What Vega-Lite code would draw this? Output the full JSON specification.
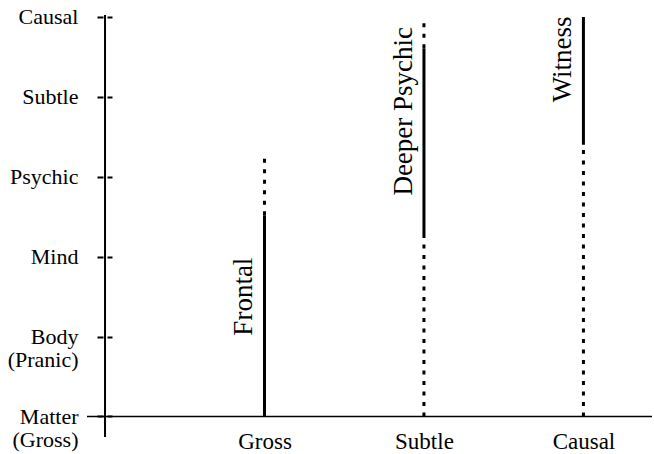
{
  "$schema": "https://vega.github.io/schema/vega-lite/v6.json",
  "width": 565,
  "height": 422,
  "autosize": {"type": "none"},
  "padding": {"left": 87, "top": 15, "right": 2, "bottom": 17},
  "config": {"view": {"stroke": null}, "font": "Liberation Serif"},
  "datasets": {
    "segments": [
      {"series": "Frontal", "pos": 1, "from": 0, "to": 2.52, "style": "solid"},
      {"series": "Frontal", "pos": 1, "from": 2.52, "to": 3.3, "style": "dotted"},
      {"series": "Deeper Psychic", "pos": 2, "from": 0, "to": 2.27, "style": "dotted"},
      {"series": "Deeper Psychic", "pos": 2, "from": 2.27, "to": 4.61, "style": "solid"},
      {"series": "Deeper Psychic", "pos": 2, "from": 4.61, "to": 5.0, "style": "dotted"},
      {"series": "Witness", "pos": 3, "from": 0, "to": 3.4, "style": "dotted"},
      {"series": "Witness", "pos": 3, "from": 3.4, "to": 5.0, "style": "solid"}
    ],
    "labels": [
      {"series": "Frontal", "pos": 1, "level": 1.5},
      {"series": "Deeper Psychic", "pos": 2, "level": 3.82},
      {"series": "Witness", "pos": 3, "level": 4.47}
    ],
    "axes": [
      {"pos": 0, "level": 0}
    ]
  },
  "layer": [
    {
      "data": {"name": "segments"},
      "mark": {"type": "rule", "strokeWidth": 3, "color": "black"},
      "encoding": {
        "x": {
          "field": "pos",
          "type": "quantitative",
          "scale": {"domain": [-0.113, 3.43], "nice": false, "zero": false},
          "axis": {
            "values": [1, 2, 3],
            "domain": false,
            "ticks": false,
            "tickSize": 0,
            "grid": false,
            "title": null,
            "labelExpr": "datum.value == 1 ? 'Gross' : datum.value == 2 ? 'Subtle' : 'Causal'",
            "labelFont": "Liberation Serif",
            "labelFontSize": 23,
            "labelColor": "black",
            "labelBaseline": "alphabetic",
            "labelPadding": 11
          }
        },
        "y": {
          "field": "from",
          "type": "quantitative",
          "scale": {"domain": [-0.257, 5.025], "nice": false, "zero": false},
          "axis": {
            "values": [0, 1, 2, 3, 4, 5],
            "domain": false,
            "grid": false,
            "title": null,
            "offset": -25,
            "tickSize": 15,
            "tickWidth": 2,
            "tickColor": "black",
            "tickDash": [5, 4, 6],
            "labelPadding": 19,
            "labelFont": "Liberation Serif",
            "labelFontSize": 22,
            "labelColor": "black",
            "labelLineHeight": 23,
            "labelBaseline": "middle",
            "labelExpr": "datum.value == 0 ? ['Matter', '(Gross)'] : datum.value == 1 ? ['Body', '(Pranic)'] : datum.value == 2 ? 'Mind' : datum.value == 3 ? 'Psychic' : datum.value == 4 ? 'Subtle' : 'Causal'"
          }
        },
        "y2": {"field": "to"},
        "strokeDash": {
          "field": "style",
          "type": "nominal",
          "scale": {"domain": ["solid", "dotted"], "range": [[1, 0], [4, 6.5]]},
          "legend": null
        }
      }
    },
    {
      "data": {"name": "axes"},
      "mark": {"type": "rule", "strokeWidth": 2, "color": "black"},
      "encoding": {
        "x": {"field": "pos", "type": "quantitative", "scale": {"domain": [-0.113, 3.43], "nice": false, "zero": false}}
      }
    },
    {
      "data": {"name": "axes"},
      "mark": {"type": "rule", "strokeWidth": 1.6, "color": "black"},
      "encoding": {
        "y": {"field": "level", "type": "quantitative", "scale": {"domain": [-0.257, 5.025], "nice": false, "zero": false}}
      }
    },
    {
      "data": {"name": "labels"},
      "mark": {
        "type": "text",
        "angle": -90,
        "align": "center",
        "baseline": "alphabetic",
        "dy": -12,
        "font": "Liberation Serif",
        "fontSize": 27,
        "color": "black"
      },
      "encoding": {
        "x": {"field": "pos", "type": "quantitative", "scale": {"domain": [-0.113, 3.43], "nice": false, "zero": false}},
        "y": {"field": "level", "type": "quantitative", "scale": {"domain": [-0.257, 5.025], "nice": false, "zero": false}},
        "text": {"field": "series"}
      }
    }
  ]
}
